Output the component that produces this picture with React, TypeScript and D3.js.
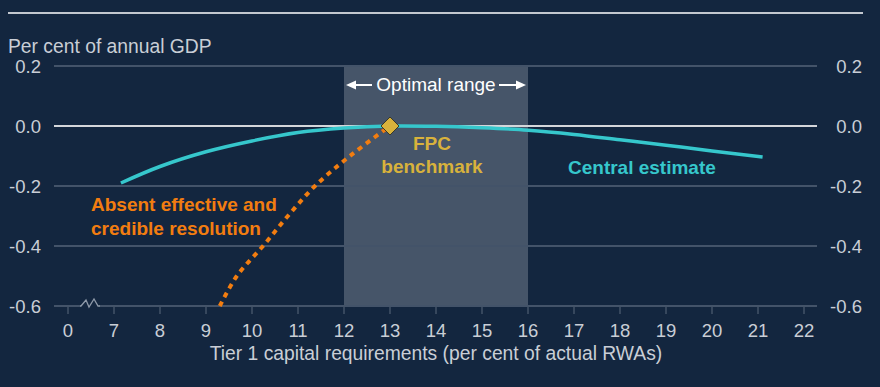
import React from "react";
import * as d3 from "d3";

const W = 880;
const H = 387;

// x ticks: position in the continuous scale, label shown (axis is broken between 0 and 7)
const xTickPositions = [6, 7, 8, 9, 10, 11, 12, 13, 14, 15, 16, 17, 18, 19, 20, 21, 22];
const xTickLabels = ["0", "7", "8", "9", "10", "11", "12", "13", "14", "15", "16", "17", "18", "19", "20", "21", "22"];
const yTicks = [0.2, 0.0, -0.2, -0.4, -0.6];
const yTickLabels = ["0.2", "0.0", "-0.2", "-0.4", "-0.6"];

const centralX = [7.15, 8, 9, 10, 11, 12, 13, 14, 15, 16, 17, 18, 19, 20, 21.1];
const centralY = [-0.19, -0.135, -0.086, -0.05, -0.022, -0.007, 0.0, -0.001, -0.006, -0.014, -0.028, -0.046, -0.064, -0.083, -0.103];

const absentX = [9.3, 9.67, 10.24, 10.78, 11.37, 12.13, 13];
const absentY = [-0.6, -0.5, -0.4, -0.3, -0.2, -0.1, 0.0];

const optimalRange = [12, 16];
const benchmark = [13, 0];

const BG = "#13263f";
const GRID = "#435369";
const TXT = "#c9ced6";
const CYAN = "#36c7cc";
const ORANGE = "#f27d10";
const GOLD = "#d8b23c";
const FONT = "'Liberation Sans', Arial, sans-serif";

export default function App() {
  const x = d3.scaleLinear().domain([6, 22]).range([68, 804]);
  const y = d3.scaleLinear().domain([-0.6, 0.2]).range([306, 66]);
  const gridX0 = 54;
  const gridX1 = 817;

  const line = d3
    .line<[number, number]>()
    .x((d) => x(d[0]))
    .y((d) => y(d[1]))
    .curve(d3.curveCatmullRom);

  const central = centralX.map((v, i) => [v, centralY[i]] as [number, number]);
  const absent = absentX.map((v, i) => [v, absentY[i]] as [number, number]);

  const bx = x(benchmark[0]);
  const by = y(benchmark[1]);
  const ds = 9;

  const zig: [number, number][] = [
    [80, 306],
    [81, 306],
    [86, 300],
    [89, 307],
    [94, 299],
    [98, 306],
    [100, 306],
  ];

  const arrowY = 85;
  const sx0 = x(optimalRange[0]);
  const sx1 = x(optimalRange[1]);

  return (
    <svg width={W} height={H} style={{ position: "absolute", left: 0, top: 0, background: BG }}>
      <rect x={0} y={0} width={W} height={H} fill={BG} />
      <line x1={8} x2={863} y1={13} y2={13} stroke="#c3c8cf" strokeWidth={2} />
      <text x={8} y={53} fill={TXT} fontFamily={FONT} fontSize={19.3}>
        Per cent of annual GDP
      </text>

      {/* shaded optimal range */}
      <rect x={sx0} y={y(0.2)} width={sx1 - sx0} height={y(-0.6) - y(0.2)} fill="#ffffff" fillOpacity={0.22} />

      {/* gridlines */}
      {yTicks.map((t) => (
        <line
          key={"g" + t}
          x1={gridX0}
          x2={gridX1}
          y1={y(t)}
          y2={y(t)}
          stroke={t === 0 ? "#d4d6da" : GRID}
          strokeWidth={2}
        />
      ))}
      {/* y labels */}
      {yTicks.map((t, i) => (
        <text key={"l" + t} x={41} y={y(t) + 7} textAnchor="end" fill={TXT} fontFamily={FONT} fontSize={18.5}>
          {yTickLabels[i]}
        </text>
      ))}
      {yTicks.map((t, i) => (
        <text key={"r" + t} x={862} y={y(t) + 7} textAnchor="end" fill={TXT} fontFamily={FONT} fontSize={18.5}>
          {yTickLabels[i]}
        </text>
      ))}

      {/* axis break */}
      <rect x={80.5} y={303} width={19} height={6} fill={BG} />
      <path d={d3.line()(zig) || ""} fill="none" stroke="#8f9aa9" strokeWidth={1.3} />

      {/* x axis ticks */}
      {xTickPositions.map((p, i) => (
        <g key={"xt" + p}>
          <line x1={x(p)} x2={x(p)} y1={306} y2={314} stroke={GRID} strokeWidth={1.5} />
          <text x={x(p)} y={337} textAnchor="middle" fill={TXT} fontFamily={FONT} fontSize={18.5}>
            {xTickLabels[i]}
          </text>
        </g>
      ))}
      <text x={436} y={360} textAnchor="middle" fill={TXT} fontFamily={FONT} fontSize={19.3}>
        Tier 1 capital requirements (per cent of actual RWAs)
      </text>

      {/* optimal range label */}
      <text x={(sx0 + sx1) / 2} y={91} textAnchor="middle" fill="#ffffff" fontFamily={FONT} fontSize={19}>
        Optimal range
      </text>
      <line x1={sx0 + 10} x2={372} y1={arrowY} y2={arrowY} stroke="#ffffff" strokeWidth={2} />
      <path d={`M${sx0 + 2},${arrowY} L${sx0 + 12},${arrowY - 4.5} L${sx0 + 12},${arrowY + 4.5} Z`} fill="#ffffff" />
      <line x1={499} x2={sx1 - 10} y1={arrowY} y2={arrowY} stroke="#ffffff" strokeWidth={2} />
      <path d={`M${sx1 - 2},${arrowY} L${sx1 - 12},${arrowY - 4.5} L${sx1 - 12},${arrowY + 4.5} Z`} fill="#ffffff" />

      {/* series */}
      <path d={line(central) || ""} fill="none" stroke={CYAN} strokeWidth={3.5} />
      <path
        d={line(absent) || ""}
        fill="none"
        stroke={ORANGE}
        strokeWidth={4}
        strokeDasharray="5 5"
      />
      <path
        d={`M${bx},${by - ds} L${bx + ds},${by} L${bx},${by + ds} L${bx - ds},${by} Z`}
        fill={GOLD}
        stroke="#3a3a2a"
        strokeWidth={1}
      />

      {/* annotations */}
      <text x={432} y={150} textAnchor="middle" fill={GOLD} fontFamily={FONT} fontSize={19} fontWeight="bold">
        FPC
      </text>
      <text x={432} y={173} textAnchor="middle" fill={GOLD} fontFamily={FONT} fontSize={19} fontWeight="bold">
        benchmark
      </text>
      <text x={568} y={174} fill={CYAN} fontFamily={FONT} fontSize={19} fontWeight="bold">
        Central estimate
      </text>
      <text x={91} y={211} fill={ORANGE} fontFamily={FONT} fontSize={19} fontWeight="bold">
        Absent effective and
      </text>
      <text x={91} y={235} fill={ORANGE} fontFamily={FONT} fontSize={19} fontWeight="bold">
        credible resolution
      </text>
    </svg>
  );
}
